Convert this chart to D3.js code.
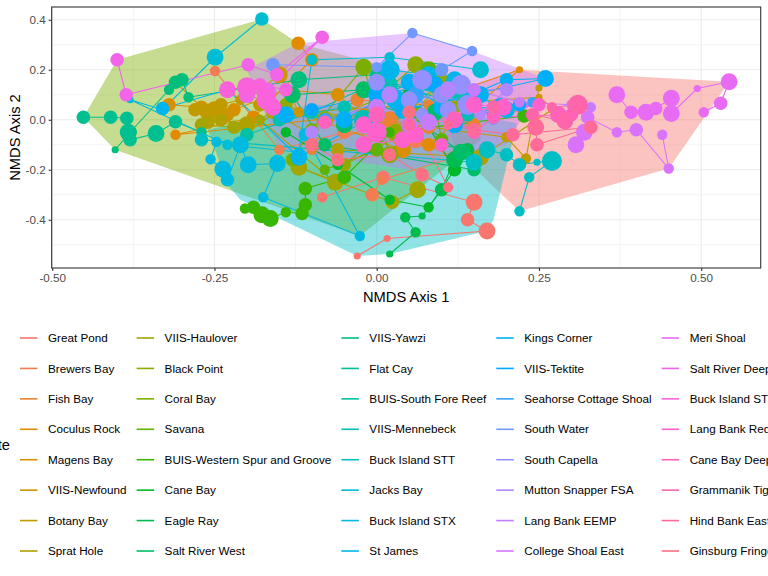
<!DOCTYPE html>
<html>
<head>
<meta charset="utf-8">
<script src="https://cdn.jsdelivr.net/npm/d3@7"></script>
<style>
  body { margin: 0; background: #fff; }
  svg { font-family: Arial, "Liberation Sans", Helvetica, sans-serif; }
</style>
</head>
<body>
<div id="chart"></div>
<script>
// sites, in legend order (ggplot hue palette follows this order)
const siteNames = [
  "Great Pond", "Brewers Bay", "Fish Bay", "Coculus Rock", "Magens Bay", "VIIS-Newfound", "Botany Bay", "Sprat Hole",
  "VIIS-Haulover", "Black Point", "Coral Bay", "Savana", "BUIS-Western Spur and Groove", "Cane Bay", "Eagle Ray", "Salt River West",
  "VIIS-Yawzi", "Flat Cay", "BUIS-South Fore Reef", "VIIS-Mennebeck", "Buck Island STT", "Jacks Bay", "Buck Island STX", "St James",
  "Kings Corner", "VIIS-Tektite", "Seahorse Cottage Shoal", "South Water", "South Capella", "Mutton Snapper FSA", "Lang Bank EEMP", "College Shoal East",
  "Meri Shoal", "Salt River Deep", "Buck Island STX Deep", "Lang Bank Red Hind FSA", "Cane Bay Deep", "Grammanik Tiger FSA", "Hind Bank East FSA", "Ginsburg Fringe"
]

// NMDS axis 1 per site (one row per site, surveys in time order)
const axis1 = [
  [-0.084, 0.01, 0.15, 0.14, 0.17, 0.016, -0.03],
  [-0.007, 0.008, 0.12, 0.06, -0.05, -0.15, -0.249],
  [-0.1, 0.02, 0.08, 0.15, 0.08, -0.03],
  [-0.121, -0.10, -0.19, -0.31, -0.02, 0.08, 0.22, 0.13],
  [-0.32, -0.22, -0.14, -0.06, 0.04, -0.2],
  [-0.31, -0.27, -0.25, -0.23, -0.15, -0.12, 0.25, 0.27],
  [-0.28, -0.26, -0.24, -0.21, -0.18, 0.2, 0.23, 0.25],
  [-0.26, -0.24, -0.2, -0.16, -0.06, 0.16, 0.27],
  [-0.27, -0.22, -0.18, -0.064, -0.12, 0.024, 0.063],
  [-0.2, -0.14, -0.08, 0.0, 0.06, 0.12, -0.05, 0.1, 0.03],
  [-0.13, -0.1, -0.02, 0.02, 0.06],
  [-0.08, 0.0, 0.08, 0.1],
  [-0.203, -0.19, -0.177, -0.164, -0.14, -0.115, -0.11, -0.11, -0.05, 0.02, 0.227],
  [-0.14, -0.06, 0.02, 0.08, 0.12, 0.05],
  [0.02, 0.06, 0.044, 0.07, 0.1, 0.12, 0.14, 0.0],
  [-0.05, 0.0, 0.05, 0.13, 0.15, -0.08, -0.13, -0.02, 0.09],
  [-0.403, -0.38, -0.32, -0.31, -0.30, -0.29, -0.12, 0.0, 0.05],
  [-0.452, -0.41, -0.385, -0.383, -0.38, -0.34, -0.31, -0.27],
  [-0.2, -0.1, 0.0, 0.06, 0.1, 0.13],
  [-0.15, -0.05, 0.02, 0.08, 0.12, 0.14, -0.02],
  [0.22, 0.235, 0.27, 0.247, 0.22, 0.2, 0.17, 0.15, -0.27],
  [-0.177, -0.249, -0.33, -0.38, -0.23, -0.12, -0.1, 0.02, 0.16],
  [-0.247, -0.256, -0.237, -0.23, -0.21, -0.198, -0.153, -0.175, -0.026, -0.11],
  [-0.33, -0.23, -0.12, 0.0, 0.02, 0.08, 0.15, 0.2, 0.03, 0.12],
  [-0.14, -0.05, 0.05, 0.1, 0.2, 0.26, 0.04, 0.16],
  [-0.1, 0.0, 0.09, 0.12, 0.19, 0.22],
  [-0.08, 0.06, 0.14, 0.18, 0.24],
  [-0.16, 0.0, 0.055, 0.147, 0.1, 0.18],
  [0.0, 0.05, 0.1, 0.13, 0.14, 0.07, 0.07, 0.11],
  [-0.1, 0.02, 0.05, 0.11, 0.2, 0.16],
  [0.0, 0.08, 0.15, 0.22, 0.3, 0.33],
  [0.307, 0.32, 0.325, 0.37, 0.40, 0.45, 0.44],
  [0.37, 0.392, 0.415, 0.43, 0.454, 0.454, 0.494, 0.543, 0.53, 0.504],
  [-0.40, -0.386, -0.198, -0.154, -0.084, -0.17, -0.2],
  [-0.23, -0.2, -0.17, -0.16, -0.18, -0.14],
  [-0.02, 0.04, 0.1, 0.15, 0.195, 0.25, 0.0, -0.02, 0.06],
  [-0.08, 0.0, 0.12, 0.15, 0.18, 0.28, 0.3],
  [0.05, 0.18, 0.24, 0.29, 0.31, 0.27],
  [0.245, 0.247, 0.33, 0.21, 0.15, 0.11],
  [-0.1, -0.06, 0.02, 0.07, 0.11, 0.05]
]

// NMDS axis 2 per site
const axis2 = [
  [-0.31, -0.23, -0.33, -0.40, -0.445, -0.475, -0.545],
  [-0.30, -0.24, -0.15, -0.08, -0.05, -0.12, 0.195],
  [-0.12, 0.0, -0.03, -0.02, 0.06, 0.08],
  [0.306, 0.24, 0.01, -0.06, 0.02, -0.1, 0.2, 0.12],
  [0.06, 0.04, 0.12, 0.1, -0.12, 0.1],
  [0.15, 0.05, 0.04, 0.02, 0.18, 0.03, 0.09, 0.05],
  [0.04, 0.03, 0.06, 0.08, 0.06, -0.07, -0.155, 0.127],
  [-0.01, 0.0, -0.02, 0.03, -0.12, -0.15, 0.04],
  [-0.02, -0.03, 0.0, -0.25, -0.19, -0.33, -0.28],
  [-0.05, 0.06, 0.0, 0.08, 0.22, 0.05, -0.18, 0.15, -0.05],
  [-0.16, -0.04, 0.21, -0.14, 0.02],
  [-0.2, -0.12, 0.2, -0.08],
  [-0.355, -0.35, -0.38, -0.395, -0.37, -0.375, -0.34, -0.275, -0.23, -0.05, 0.015],
  [-0.05, -0.18, -0.32, -0.35, -0.2, 0.1],
  [-0.537, -0.45, -0.39, -0.385, -0.28, -0.16, -0.12, -0.05],
  [-0.02, 0.06, 0.02, -0.13, -0.2, -0.1, 0.1, 0.12, 0.03],
  [-0.12, -0.05, 0.12, 0.15, 0.16, 0.09, 0.16, 0.18, 0.08],
  [0.01, 0.01, 0.006, -0.05, -0.08, -0.055, -0.008, -0.05],
  [-0.06, 0.03, 0.15, 0.12, 0.08, 0.1],
  [0.0, 0.05, 0.14, 0.14, 0.12, 0.02, 0.0],
  [-0.366, -0.23, -0.165, -0.17, -0.18, -0.14, -0.12, -0.17, -0.08],
  [0.403, 0.25, 0.04, 0.08, -0.1, -0.13, 0.24, 0.25, 0.2],
  [-0.088, -0.158, -0.198, -0.24, -0.10, -0.18, -0.175, -0.31, -0.465, -0.06],
  [0.045, 0.12, -0.15, 0.02, 0.2, 0.18, 0.1, 0.04, 0.08, 0.16],
  [0.02, 0.0, 0.15, 0.05, 0.16, 0.165, 0.04, 0.1],
  [0.04, 0.1, 0.14, -0.02, 0.06, 0.06],
  [0.0, 0.1, 0.05, 0.02, 0.07],
  [0.22, 0.21, 0.347, 0.275, 0.2, 0.0],
  [0.15, 0.08, 0.1, 0.14, 0.06, 0.02, 0.16, 0.04],
  [-0.05, 0.1, -0.02, 0.12, 0.12, 0.02],
  [0.05, -0.01, 0.12, 0.07, 0.06, 0.05],
  [-0.10, -0.05, 0.01, -0.05, -0.04, -0.195, -0.06],
  [0.1, 0.03, 0.03, 0.045, 0.086, 0.025, 0.125, 0.152, 0.066, 0.03],
  [0.24, 0.10, 0.22, 0.18, 0.33, 0.11, 0.1],
  [0.12, 0.13, 0.08, 0.05, 0.14, 0.12],
  [-0.1, -0.08, -0.1, 0.06, 0.05, 0.06, -0.05, -0.02, -0.06],
  [-0.01, 0.02, 0.0, -0.05, 0.01, 0.02, 0.02],
  [-0.02, 0.05, 0.02, -0.005, 0.06, 0.05],
  [-0.03, -0.10, -0.03, -0.06, -0.04, -0.02],
  [-0.1, -0.16, -0.14, -0.22, -0.27, 0.03]
]

// point size variable per survey
const richness = [
  [3, 4, 5, 4, 5, 2, 2],
  [4, 3, 4, 5, 4, 3, 3],
  [3, 5, 4, 4, 3, 4],
  [4, 4, 4, 3, 4, 4, 2, 3],
  [4, 4, 3, 4, 5, 3],
  [3, 4, 5, 4, 5, 3, 2, 2],
  [4, 5, 4, 3, 4, 3, 3, 2],
  [4, 4, 5, 4, 4, 5, 2],
  [4, 4, 3, 5, 5, 4, 5],
  [3, 4, 5, 4, 5, 4, 4, 5, 5],
  [4, 4, 5, 5, 4],
  [3, 4, 5, 4],
  [3, 4, 5, 5, 3, 4, 4, 4, 4, 3, 4],
  [3, 3, 3, 3, 4, 4],
  [2, 3, 3, 2, 4, 5, 4, 4],
  [5, 5, 4, 5, 4, 4, 5, 5, 5],
  [2, 4, 3, 4, 4, 3, 5, 4, 5],
  [4, 4, 4, 5, 4, 5, 4, 3],
  [4, 4, 5, 4, 3, 3],
  [4, 4, 5, 4, 5, 4, 6],
  [3, 3, 6, 2, 4, 4, 5, 5, 4],
  [4, 5, 3, 2, 3, 3, 3, 3, 5],
  [3, 3, 5, 4, 5, 5, 5, 3, 3, 4],
  [4, 4, 5, 5, 6, 5, 5, 5, 6, 5],
  [5, 5, 5, 5, 4, 5, 5, 5],
  [4, 5, 5, 5, 4, 4],
  [4, 5, 5, 4, 3],
  [4, 3, 3, 3, 4, 3],
  [5, 5, 5, 6, 6, 4, 6, 5],
  [4, 5, 5, 5, 4, 3],
  [5, 5, 4, 3, 3, 3],
  [5, 5, 4, 3, 4, 3, 3],
  [5, 4, 5, 4, 5, 5, 2, 5, 4, 3],
  [4, 4, 4, 4, 4, 6, 5],
  [5, 6, 6, 5, 4, 4],
  [5, 5, 4, 5, 5, 4, 6, 5, 5],
  [4, 5, 5, 4, 4, 5, 4],
  [4, 4, 4, 5, 6, 3],
  [5, 4, 4, 4, 4, 3],
  [4, 4, 4, 4, 3, 4]
]

// convex hulls of the four groups (NMDS units)
const hullGroups = ["A", "B", "C", "D"]
const hullAxis1 = [
  [0.22, 0.543, 0.45, 0.22, 0.12, 0.1],
  [-0.452, -0.40, -0.177, -0.121, 0.15, 0.16, -0.026, -0.403],
  [-0.26, -0.1, 0.1, 0.216, 0.18, 0.17, 0.02, -0.03, -0.21, -0.23],
  [-0.121, 0.055, 0.147, 0.26, 0.2, 0.05, -0.15, -0.2]
]
const hullAxis2 = [
  [0.2, 0.152, -0.195, -0.366, -0.12, 0.1],
  [0.01, 0.24, 0.403, 0.306, 0.12, -0.08, -0.465, -0.12],
  [-0.04, 0.06, 0.04, -0.013, -0.40, -0.445, -0.537, -0.545, -0.32, -0.26],
  [0.306, 0.347, 0.275, 0.165, -0.1, -0.2, -0.12, 0.2]
]

const xTicks = [-0.5, -0.25, 0, 0.25, 0.5]
const yTicks = [-0.4, -0.2, 0, 0.2, 0.4]

// ggplot-style hue colour (polar LUV, l = 65, c = 100)
function hueColor(h) {
  const L = 65, C = 100, hr = h * Math.PI / 180
  const U = C * Math.cos(hr), V = C * Math.sin(hr)
  const Xn = 95.047, Yn = 100, Zn = 108.883
  const dn = Xn + 15 * Yn + 3 * Zn
  const un = 4 * Xn / dn, vn = 9 * Yn / dn
  const Y = Yn * Math.pow((L + 16) / 116, 3)
  const u = U / (13 * L) + un, v = V / (13 * L) + vn
  const X = 9 * Y * u / (4 * v)
  const Z = Y * (12 - 3 * u - 20 * v) / (4 * v)
  const lin = [
    (3.240479 * X - 1.537150 * Y - 0.498535 * Z) / 100,
    (-0.969256 * X + 1.875992 * Y + 0.041556 * Z) / 100,
    (0.055648 * X - 0.204043 * Y + 1.057311 * Z) / 100
  ]
  const c = lin.map(t => {
    let g = t <= 0.0031308 ? 12.92 * t : 1.055 * Math.pow(t, 1 / 2.4) - 0.055
    return Math.round(255 * Math.max(0, Math.min(1, g)))
  })
  return d3.rgb(c[0], c[1], c[2]).formatHex()
}
const huePal = n => d3.range(n).map(i => hueColor(15 + 360 * i / n))

const width = 768, height = 576
const margin = { top: 7, right: 7.3, bottom: 308, left: 51.7 }

const x = d3.scaleLinear()
  .domain([-0.5008, 0.5917])
  .range([margin.left, width - margin.right])
const y = d3.scaleLinear()
  .domain([-0.593, 0.451])
  .range([height - margin.bottom, margin.top])
const size = d3.scaleLinear().domain([2, 6]).range([3.6, 10])
const siteColor = d3.scaleOrdinal(siteNames, huePal(siteNames.length))
const hullColor = d3.scaleOrdinal(hullGroups, huePal(hullGroups.length))

const svg = d3.select("#chart").append("svg")
  .attr("width", width)
  .attr("height", height)

// grid
const grid = svg.append("g")
const minorX = d3.range(xTicks.length - 1).map(i => (xTicks[i] + xTicks[i + 1]) / 2)
const minorY = d3.range(yTicks.length - 1).map(i => (yTicks[i] + yTicks[i + 1]) / 2).concat([yTicks[0] - 0.1])
grid.selectAll(".minx").data(minorX).join("line")
  .attr("x1", d => x(d)).attr("x2", d => x(d))
  .attr("y1", y.range()[0]).attr("y2", y.range()[1])
  .attr("stroke", "#ebebeb").attr("stroke-width", 0.55)
grid.selectAll(".miny").data(minorY).join("line")
  .attr("x1", x.range()[0]).attr("x2", x.range()[1])
  .attr("y1", d => y(d)).attr("y2", d => y(d))
  .attr("stroke", "#ebebeb").attr("stroke-width", 0.55)
grid.selectAll(".majx").data(xTicks).join("line")
  .attr("x1", d => x(d)).attr("x2", d => x(d))
  .attr("y1", y.range()[0]).attr("y2", y.range()[1])
  .attr("stroke", "#ebebeb").attr("stroke-width", 1.1)
grid.selectAll(".majy").data(yTicks).join("line")
  .attr("x1", x.range()[0]).attr("x2", x.range()[1])
  .attr("y1", d => y(d)).attr("y2", d => y(d))
  .attr("stroke", "#ebebeb").attr("stroke-width", 1.1)

// hulls
svg.append("g").selectAll("path")
  .data(hullGroups)
  .join("path")
  .attr("d", (g, i) => d3.line()(hullAxis1[i].map((v, j) => [x(v), y(hullAxis2[i][j])])) + "Z")
  .attr("fill", g => hullColor(g))
  .attr("fill-opacity", 0.43)
  .attr("stroke", "none")

// per-site survey data
const sites = siteNames.map((name, i) => ({
  name,
  pts: axis1[i].map((v, j) => ({ x: v, y: axis2[i][j], s: richness[i][j] }))
}))

const line = d3.line().x(d => x(d.x)).y(d => y(d.y))

svg.append("g").selectAll("path")
  .data(sites)
  .join("path")
  .attr("d", d => line(d.pts))
  .attr("fill", "none")
  .attr("stroke", d => siteColor(d.name))
  .attr("stroke-width", 1.1)

svg.append("g").selectAll("g")
  .data(sites)
  .join("g")
  .attr("fill", d => siteColor(d.name))
  .selectAll("circle")
  .data(d => d.pts)
  .join("circle")
  .attr("cx", d => x(d.x))
  .attr("cy", d => y(d.y))
  .attr("r", d => size(d.s))

// panel border
svg.append("rect")
  .attr("x", x.range()[0]).attr("y", y.range()[1])
  .attr("width", x.range()[1] - x.range()[0])
  .attr("height", y.range()[0] - y.range()[1])
  .attr("fill", "none")
  .attr("stroke", "#333333").attr("stroke-width", 1.1)

// axes
const xAxis = svg.append("g")
  .attr("transform", `translate(0,${y.range()[0]})`)
  .call(d3.axisBottom(x).tickValues(xTicks).tickSize(3).tickPadding(3))
const yAxis = svg.append("g")
  .attr("transform", `translate(${x.range()[0]},0)`)
  .call(d3.axisLeft(y).tickValues(yTicks).tickSize(3).tickPadding(3))
;[xAxis, yAxis].forEach(a => {
  a.select(".domain").remove()
  a.selectAll(".tick line").attr("stroke", "#333333").attr("stroke-width", 1.1)
  a.selectAll(".tick text").attr("fill", "#4d4d4d").style("font-size", "11.7px")
    .style("font-family", "Arial, 'Liberation Sans', sans-serif")
})
xAxis.selectAll(".tick text").text(d => d.toFixed(2))
yAxis.selectAll(".tick text").text(d => d.toFixed(1))

svg.append("text")
  .attr("x", (x.range()[0] + x.range()[1]) / 2)
  .attr("y", 302)
  .attr("text-anchor", "middle")
  .style("font-size", "14.7px")
  .text("NMDS Axis 1")
svg.append("text")
  .attr("transform", `translate(19.5,${(y.range()[0] + y.range()[1]) / 2}) rotate(-90)`)
  .attr("text-anchor", "middle")
  .style("font-size", "14.7px")
  .text("NMDS Axis 2")

// legend: 5 columns of 8 keys
const rows = 8, rowStep = 30.43, rowTop = 338
const legend = svg.append("g")
svg.append("text")
  .attr("x", 10).attr("y", rowTop + rowStep * 3.5)
  .attr("dy", "0.35em")
  .attr("text-anchor", "end")
  .style("font-size", "14.7px")
  .text("Site")

let colX = 20
d3.range(Math.ceil(siteNames.length / rows)).forEach(c => {
  const names = siteNames.slice(c * rows, c * rows + rows)
  const col = legend.append("g")
  const item = col.selectAll("g").data(names).join("g")
    .attr("transform", (d, i) => `translate(${colX},${rowTop + i * rowStep})`)
  item.append("line")
    .attr("x1", 0).attr("x2", 17.5)
    .attr("stroke", d => siteColor(d))
    .attr("stroke-width", 1.6)
  const txt = item.append("text")
    .attr("x", 28).attr("dy", "0.35em")
    .style("font-size", "11.7px")
    .text(d => d)
  const maxW = d3.max(txt.nodes(), n => n.getComputedTextLength())
  colX += 28 + maxW + 10
})
</script>
</body>
</html>
